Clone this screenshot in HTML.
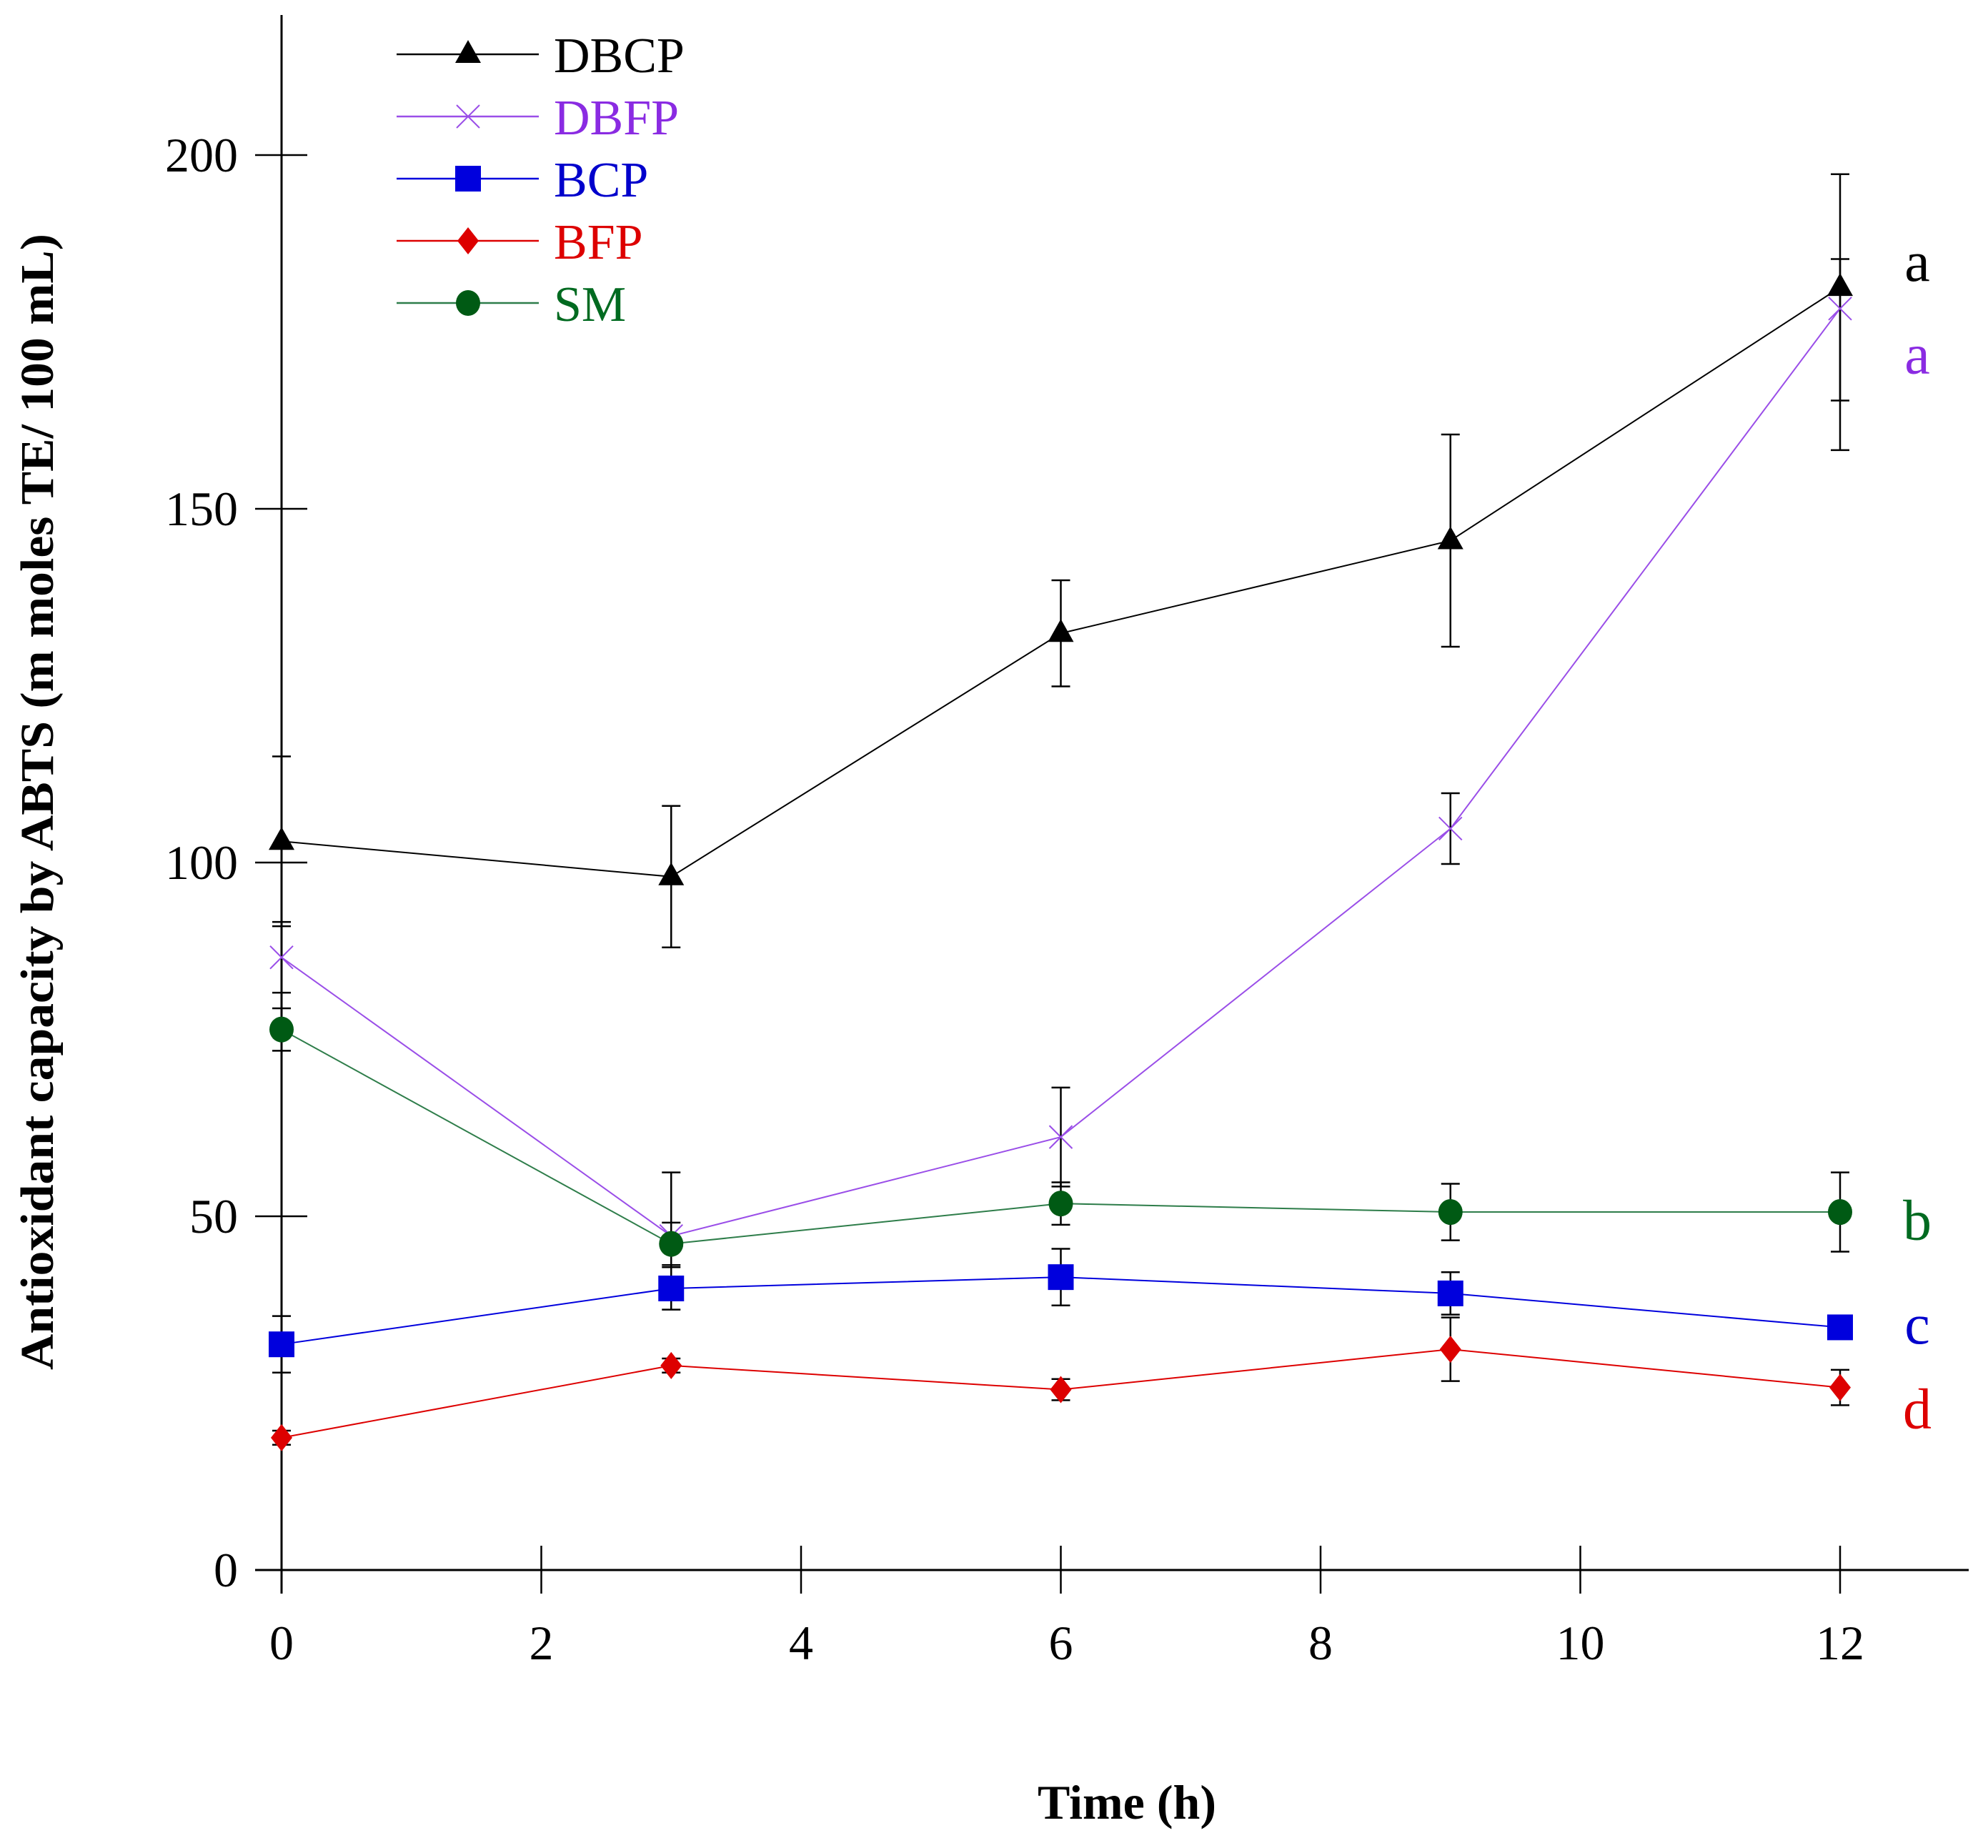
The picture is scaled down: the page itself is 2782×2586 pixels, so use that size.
<!DOCTYPE html>
<html><head><meta charset="utf-8"><style>
html,body{margin:0;padding:0;background:#fff;}
svg{display:block;}
svg text{font-family:"Liberation Serif",serif;}
</style></head><body>
<svg id="chart" width="2782" height="2586" viewBox="0 0 2782 2586" xmlns="http://www.w3.org/2000/svg"></svg>
<script>
const xTicks = [0,2,4,6,8,10,12];
const yTicks = [0,50,100,150,200];
const times = [0,3,6,9,12];
const seriesNames = ["DBCP","DBFP","BCP","BFP","SM"];
const dbcp = [103,98,132.4,145.5,181.3];
const dbcpErrUp = [12,10,7.5,15,16];
const dbcpErrDn = [12,10,7.5,15,16];
const dbfp = [86.6,47.2,61.2,104.8,178.3];
const dbfpErrUp = [5,9,7,5,7];
const dbfpErrDn = [5,9,7,5,20];
const bcp = [31.9,39.8,41.4,39.1,34.3];
const bcpErrUp = [4,3,4,3,1];
const bcpErrDn = [4,3,4,3,1];
const bfp = [18.7,28.9,25.5,31.2,25.8];
const bfpErrUp = [1,1,1.5,4.5,2.5];
const bfpErrDn = [1,1,1.5,4.5,2.5];
const sm = [76.4,46.1,51.8,50.6,50.6];
const smErrUp = [3,3,3,4,5.6];
const smErrDn = [3,3,3,4,5.6];
const sigLetters = ["a","a","c","d","b"];

const NS="http://www.w3.org/2000/svg";
const svg=document.getElementById('chart');
const X=v=>394+v*181.75;
const Y=v=>2197-v*9.9;
function mk(tag,attrs,parent){const e=document.createElementNS(NS,tag);for(const k in attrs)e.setAttribute(k,attrs[k]);(parent||svg).appendChild(e);return e;}

let ax=mk('line',{x1:394,y1:21,x2:394,y2:2230,stroke:'#000','stroke-width':3});


ax=mk('line',{x1:357,y1:2197,x2:2755,y2:2197,stroke:'#000','stroke-width':3});


xTicks.forEach(t=>{
  const l=mk('line',{x1:X(t),y1:t===0?2197:2163,x2:X(t),y2:2230,stroke:'#000','stroke-width':2.5});
  
  
  const tx=mk('text',{x:X(t),y:2322,'font-size':68,'text-anchor':'middle'});
  tx.textContent=t;
  
  
});
yTicks.forEach(t=>{
  const l=mk('line',{x1:357,y1:Y(t),x2:t===0?394:430,y2:Y(t),stroke:'#000','stroke-width':2.5});
  
  
  const tx=mk('text',{x:333,y:Y(t)+23,'font-size':68,'text-anchor':'end'});
  tx.textContent=t;
  
  
});
let tt=mk('text',{x:1577,y:2545,'font-size':68,'font-weight':'bold','text-anchor':'middle'});
tt.textContent='Time (h)';


tt=mk('text',{x:0,y:0,'font-size':66,'font-weight':'bold','text-anchor':'middle',textLength:1590,lengthAdjust:'spacingAndGlyphs',transform:'translate(74,1122) rotate(-90)'});
tt.textContent='Antioxidant capacity by ABTS (m moles TE/ 100 mL)';



const cfg=[
 {vals:dbcp,up:dbcpErrUp,dn:dbcpErrDn,line:'#000',fill:'#000',text:'#000',m:'tri'},
 {vals:dbfp,up:dbfpErrUp,dn:dbfpErrDn,line:'#9a4ee8',fill:'#9a4ee8',text:'#8a2be2',m:'x'},
 {vals:bcp,up:bcpErrUp,dn:bcpErrDn,line:'#0000dd',fill:'#0000dd',text:'#0000cc',m:'sq'},
 {vals:bfp,up:bfpErrUp,dn:bfpErrDn,line:'#dd0000',fill:'#dd0000',text:'#dd0000',m:'dia'},
 {vals:sm,up:smErrUp,dn:smErrDn,line:'#2e7d4a',fill:'#005a14',text:'#006a20',m:'circ'}
];
function marker(g,type,cx,cy,c){
  let e;
  if(type==='tri') e=mk('polygon',{points:`${cx},${cy-20} ${cx-18},${cy+12} ${cx+18},${cy+12}`,fill:c},g);
  else if(type==='x'){e=mk('path',{d:`M${cx-16},${cy-16}L${cx+16},${cy+16}M${cx-16},${cy+16}L${cx+16},${cy-16}`,stroke:c,'stroke-width':2,fill:'none'},g);}
  else if(type==='sq') e=mk('rect',{x:cx-18,y:cy-18,width:36,height:36,fill:c},g);
  else if(type==='dia') e=mk('polygon',{points:`${cx},${cy-19} ${cx+15},${cy} ${cx},${cy+19} ${cx-15},${cy}`,fill:c},g);
  else e=mk('ellipse',{cx:cx,cy:cy,rx:17,ry:18,fill:c},g);
  return e;
}
const letterY=[207,280,1045,1112,963];
cfg.forEach((s,i)=>{
  const g=mk('g',{});
  
  
  const pts=times.map((t,j)=>X(t)+','+Y(s.vals[j])).join(' ');
  const pl=mk('polyline',{points:pts,fill:'none',stroke:s.line,'stroke-width':2},g);
  
  
  times.forEach((t,j)=>{
    const x=X(t),y1=Y(s.vals[j]+s.up[j]),y2=Y(s.vals[j]-s.dn[j]);
    const eb=mk('path',{d:`M${x},${y1}L${x},${y2}M${x-13},${y1}L${x+13},${y1}M${x-13},${y2}L${x+13},${y2}`,stroke:'#000','stroke-width':2.5,fill:'none'},g);
    
    
  });
  times.forEach((t,j)=>{
    const mm=marker(g,s.m,X(t),Y(s.vals[j]),s.fill);
    
    
  });
  const lt=mk('text',{x:2683,y:letterY[i]*1.774+26,'font-size':80,fill:s.text,'text-anchor':'middle'});
  lt.textContent=sigLetters[i];
  
  
  const ly=76+i*87;
  const lg=mk('g',{});
  
  
  mk('line',{x1:555,y1:ly,x2:754,y2:ly,stroke:s.line,'stroke-width':2.5},lg);
  marker(lg,s.m,655,ly,s.fill);
  const lx=mk('text',{x:775,y:ly+25,'font-size':70,fill:s.text},lg);
  lx.textContent=seriesNames[i];
});
</script>
</body></html>
